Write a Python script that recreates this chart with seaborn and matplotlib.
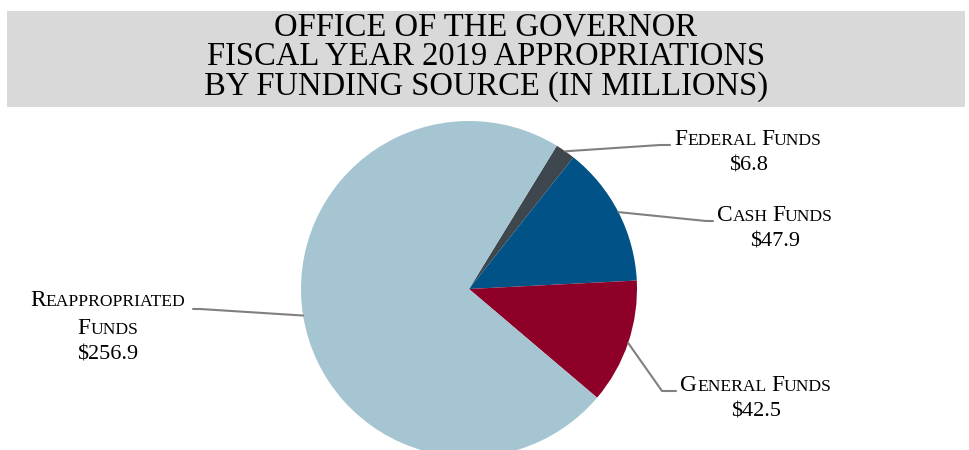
import numpy as np
import matplotlib
matplotlib.use("Agg")
import matplotlib.pyplot as plt
from matplotlib.patches import Rectangle
from matplotlib.lines import Line2D
from matplotlib.offsetbox import TextArea, HPacker, VPacker, AnnotationBbox
import seaborn as sns

sns.set_theme(style="white")
plt.rcParams["font.family"] = ["Liberation Serif", "DejaVu Serif"]

# Funding sources, in millions, drawn clockwise from the top
sources = ["Federal Funds", "Cash Funds", "General Funds", "Reappropriated Funds"]
amounts = [6.8, 47.9, 42.5, 256.9]
amount_labels = ["$6.8", "$47.9", "$42.5", "$256.9"]
colors = ["#3e474d", "#015287", "#8e0028", "#a4c5d1"]

title_lines = ["OFFICE OF THE GOVERNOR",
               "FISCAL YEAR 2019 APPROPRIATIONS",
               "BY FUNDING SOURCE (IN MILLIONS)"]

W, H = 969, 450
fig = plt.figure(figsize=(W / 100, H / 100), dpi=100)
fig.patch.set_facecolor("white")

# Grey title band
fig.patches.append(Rectangle((7 / W, 1 - 107 / H), 958 / W, 96 / H,
                             transform=fig.transFigure, facecolor="#d9d9d9",
                             edgecolor="none", zorder=0))
for i, line in enumerate(title_lines):
    fig.text(486 / W, 1 - (27 + 30 * i) / H, line, ha="center", va="center",
             fontsize=23.5, color="black")

# Pie axes: radius 168 px, centre at (469, 289) px from top-left
R = 168.0
cx, cy = 469.0, 289.0
ax = fig.add_axes([(cx - R) / W, (H - cy - R) / H, 2 * R / W, 2 * R / H])
wedges, _ = ax.pie(amounts, colors=colors, startangle=58.5, counterclock=False,
                   radius=1.0, wedgeprops=dict(linewidth=0))
ax.set_xlim(-1, 1)
ax.set_ylim(-1, 1)
ax.set_axis_off()
for w in wedges:
    w.set_clip_on(False)


def px_to_data(x, y):
    """Image pixel (top-left origin) to pie data coordinates."""
    return (x - cx) / R, (cy - y) / R


# Leader line elbows/ends in pixels and label anchors (centre x, top y)
elbows = [(660, 145), (706, 221), (662, 391), (200, 309)]
ends = [(670, 145), (713, 221), (676, 391), (193, 309)]
anchors = [(748, 129), (775, 205), (756, 375), (108, 290)]

for w, el, en in zip(wedges, elbows, ends):
    mid = np.deg2rad((w.theta1 + w.theta2) / 2)
    x0, y0 = np.cos(mid) * 1.0, np.sin(mid) * 1.0
    x1, y1 = px_to_data(*el)
    x2, y2 = px_to_data(*en)
    ax.add_line(Line2D([x0, x1, x2], [y0, y1, y2], color="#808080",
                       linewidth=1.5, clip_on=False, zorder=3))

BIG, SMALL, NUM = 16.8, 12.6, 16


def small_caps(text):
    """Build a small-caps word row from TextAreas."""
    parts = []
    for wi, word in enumerate(text.split(" ")):
        if wi > 0:
            parts.append(TextArea(" ", textprops=dict(fontsize=SMALL)))
        parts.append(TextArea(word[0].upper(), textprops=dict(fontsize=BIG, color="black")))
        parts.append(TextArea(word[1:].upper(), textprops=dict(fontsize=SMALL, color="black")))
    return HPacker(children=parts, align="baseline", pad=0, sep=0)


label_rows = [["Federal Funds"], ["Cash Funds"], ["General Funds"],
              ["Reappropriated", "Funds"]]

for rows, amt, (ax_x, ax_y) in zip(label_rows, amount_labels, anchors):
    children = [small_caps(r) for r in rows]
    children.append(TextArea(amt, textprops=dict(fontsize=NUM, color="black")))
    box = VPacker(children=children, align="center", pad=0, sep=5)
    ab = AnnotationBbox(box, (ax_x, H - ax_y), xycoords="figure pixels",
                        box_alignment=(0.5, 1), frameon=False, pad=0)
    fig.add_artist(ab)

fig.savefig("out.png", dpi=100, facecolor="white")
